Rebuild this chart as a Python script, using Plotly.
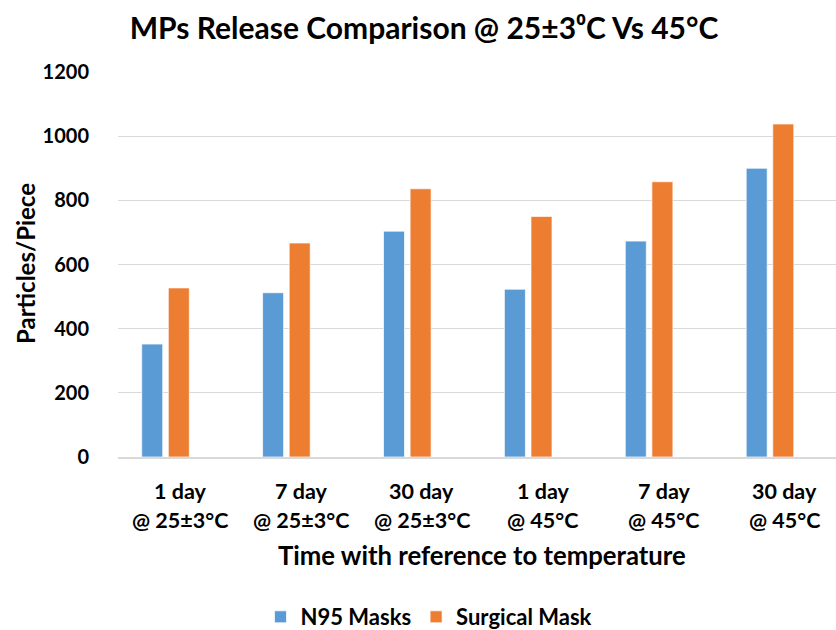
import plotly.graph_objects as go

# Data
day_labels = ["1 day", "7 day", "30 day", "1 day", "7 day", "30 day"]
temp_labels = ["@ 25±3°C", "@ 25±3°C", "@ 25±3°C", "@ 45°C", "@ 45°C", "@ 45°C"]
categories = [f"{d} {t}" for d, t in zip(day_labels, temp_labels)]
n95_masks = [352, 512, 704, 523, 673, 900]
surgical_mask = [527, 667, 836, 750, 858, 1038]
y_ticks = [0, 200, 400, 600, 800, 1000, 1200]

FONT = "Lato"
W, H = 836, 630
ML, MR, MT, MB = 118, 0, 72, 173
plot_w = W - ML - MR
plot_h = H - MT - MB

fig = go.Figure()
fig.add_trace(go.Bar(
    name="N95 Masks", x=categories, y=n95_masks,
    marker=dict(color="#5B9BD5", line=dict(color="rgba(255,255,255,0.7)", width=1)),
))
fig.add_trace(go.Bar(
    name="Surgical Mask", x=categories, y=surgical_mask,
    marker=dict(color="#ED7D31", line=dict(color="rgba(255,255,255,0.7)", width=1)),
))

# Two-line category labels under each group (set slightly right of the bar pair)
label_font = dict(family=FONT, size=21.5, color="#000", weight="bold")
annotations = []
for cat, d, t in zip(categories, day_labels, temp_labels):
    annotations.append(dict(x=cat, xref="x", y=-0.088, yref="paper", text=d,
                            showarrow=False, yanchor="middle", xshift=14.5,
                            font=label_font))
    annotations.append(dict(x=cat, xref="x", y=-0.164, yref="paper", text=t,
                            showarrow=False, yanchor="middle", xshift=14.5,
                            font=label_font))

# Axis titles
annotations.append(dict(x=(481.5 - ML) / plot_w, xref="paper", y=(457 - 555) / plot_h, yref="paper",
                        text="Time with reference to temperature", showarrow=False,
                        yanchor="middle", xanchor="center",
                        font=dict(family=FONT, size=25.7, color="#000", weight="bold")))
annotations.append(dict(x=(25 - ML) / plot_w, xref="paper", y=(457 - 264) / plot_h, yref="paper",
                        text="Particles/Piece", showarrow=False, textangle=-90,
                        xanchor="center", yanchor="middle",
                        font=dict(family=FONT, size=24, color="#000", weight="bold")))

fig.update_layout(
    width=W, height=H,
    margin=dict(l=ML, r=MR, t=MT, b=MB),
    paper_bgcolor="white", plot_bgcolor="white",
    barmode="group", bargap=0.56, bargroupgap=0.21,
    title=dict(text="MPs Release Comparison @ 25±3⁰C Vs 45°C",
               x=424 / W, xref="container", xanchor="center",
               y=1 - 28 / H, yref="container", yanchor="middle",
               font=dict(family=FONT, size=30, color="#000", weight="bold")),
    font=dict(family=FONT, color="#000"),
    legend=dict(orientation="h", xref="container", x=429 / W, xanchor="center",
                yref="container", y=1 - 617 / H, yanchor="middle",
                font=dict(family=FONT, size=22, color="#000", weight="bold"),
                itemwidth=30, tracegroupgap=0),
    annotations=annotations,
    showlegend=True,
)
fig.update_xaxes(
    range=[-0.393, 5.546], showticklabels=False, showgrid=False,
    showline=True, linecolor="#D9D9D9", linewidth=1.5, ticks="",
)
fig.update_yaxes(
    range=[0, 1200], tickvals=y_ticks, showgrid=True, gridcolor="#D9D9D9",
    gridwidth=1.2, zeroline=False, showline=False,
    ticks="outside", ticklen=24, tickcolor="rgba(0,0,0,0)",
    tickfont=dict(family=FONT, size=20, color="#000", weight="bold"),
)

fig.write_html("out.html")
